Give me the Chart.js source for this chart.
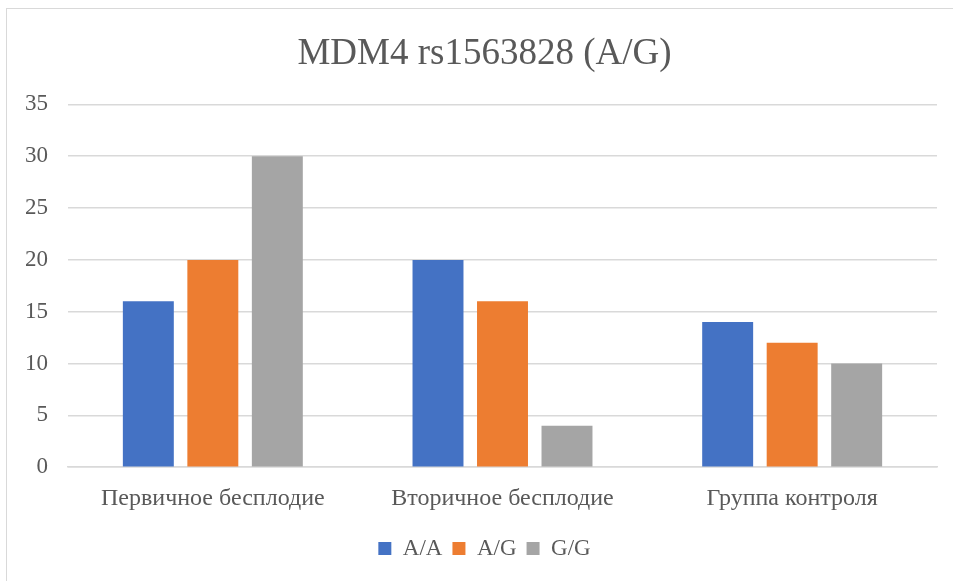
<!DOCTYPE html>
<html>
<head>
<meta charset="utf-8">
<script src="https://cdn.jsdelivr.net/npm/chart.js@4"></script>
<style>
html,body{margin:0;padding:0;background:#fff;}
#wrap{position:relative;width:953px;height:581px;}
#frame{position:absolute;left:6px;top:8px;width:960px;height:600px;border:1px solid #d9d9d9;box-sizing:border-box;}
canvas{position:absolute;left:0;top:0;}
</style>
</head>
<body>
<div id="wrap">
<div id="frame"></div>
<canvas id="c" width="953" height="581"></canvas>
</div>
<script>
const categories = ["Первичное бесплодие", "Вторичное бесплодие", "Группа контроля"];
const seriesNames = ["A/A", "A/G", "G/G"];
const valuesAA = [16, 20, 14];
const valuesAG = [20, 16, 12];
const valuesGG = [30, 4, 10];
const colors = ["#4472C4", "#ED7D31", "#A5A5A5"];
const yTicksMin = 0, yTicksMax = 35, yStep = 5;

const font = "'Liberation Serif', 'Times New Roman', serif";
new Chart(document.getElementById('c'), {
  type: 'bar',
  data: {
    labels: categories,
    datasets: [valuesAA, valuesAG, valuesGG].map((d, i) => ({
      label: seriesNames[i],
      data: d,
      backgroundColor: colors[i],
      borderWidth: 0,
      categoryPercentage: 0.668,
      barPercentage: 0.79
    }))
  },
  options: {
    responsive: false,
    animation: false,
    devicePixelRatio: 1,
    layout: { padding: { left: 18, right: 2, top: 24, bottom: 11 } },
    plugins: {
      title: {
        display: true,
        text: "MDM4 rs1563828 (A/G)",
        color: '#595959',
        font: { family: font, size: 37, weight: 'normal' },
        padding: { top: 8, bottom: 28 }
      },
      legend: {
        position: 'bottom',
        title: { display: true, text: ' ', font: { size: 5, lineHeight: 1 }, padding: 0 },
        labels: {
          color: '#595959',
          font: { family: font, size: 23 },
          boxWidth: 13, boxHeight: 13,
          padding: 10
        }
      },
      tooltip: { enabled: false }
    },
    scales: {
      x: {
        grid: { display: false },
        border: { display: true, color: '#d9d9d9', width: 1.5 },
        ticks: { color: '#595959', font: { family: font, size: 24 }, padding: 9 }
      },
      y: {
        min: yTicksMin, max: yTicksMax,
        ticks: { stepSize: yStep, color: '#595959', font: { family: font, size: 23 }, padding: 20 },
        grid: { color: '#d9d9d9', lineWidth: 1.5, drawTicks: false },
        border: { display: false },
        afterFit: (s) => { s.width = 50; }
      },
      ySpacer: {
        position: 'right',
        min: yTicksMin, max: yTicksMax,
        grid: { display: false, drawTicks: false },
        ticks: { display: false },
        border: { display: false },
        afterFit: (s) => { s.width = 14; }
      }
    }
  }
});
</script>
</body>
</html>
